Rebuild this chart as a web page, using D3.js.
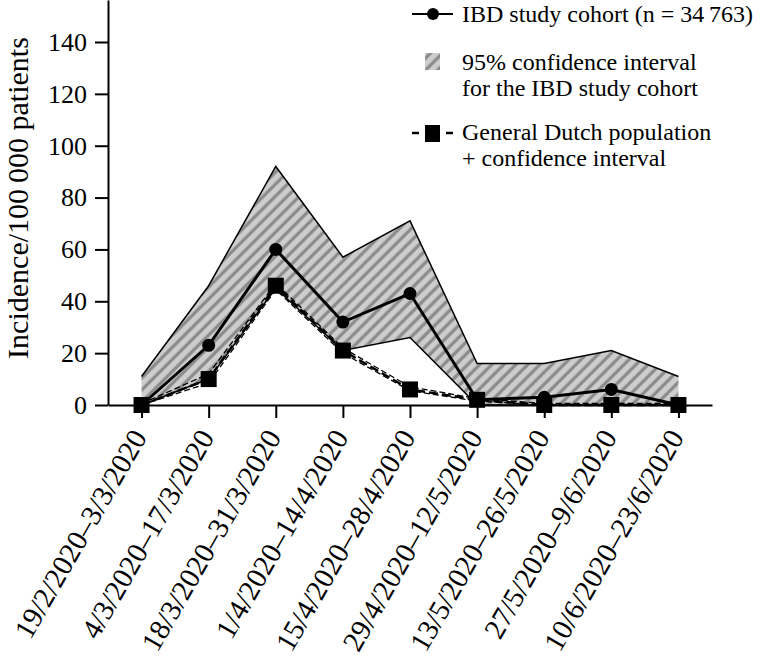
<!DOCTYPE html>
<html>
<head>
<meta charset="utf-8">
<script src="https://cdn.jsdelivr.net/npm/d3@7"></script>
<style>
  body { margin: 0; background: #fff; }
</style>
</head>
<body>
<svg id="main-svg" width="764" height="671"></svg>
<script>
// periods on the x axis
const periods = [
    '19/2/2020–3/3/2020', '4/3/2020–17/3/2020', '18/3/2020–31/3/2020',
    '1/4/2020–14/4/2020', '15/4/2020–28/4/2020', '29/4/2020–12/5/2020',
    '13/5/2020–26/5/2020', '27/5/2020–9/6/2020', '10/6/2020–23/6/2020'
];

// IBD study cohort and its 95% CI
const ibdIncidence = [0, 23, 60, 32, 43, 2, 3, 6, 0];
const ibdUpper = [11, 46, 92, 57, 71, 16, 16, 21, 11];
const ibdLower = [0, 10, 45, 21, 26, 0, 0, 0, 0];

// general Dutch population and its CI
const dutchIncidence = [0, 10, 46, 21, 6, 2, 0, 0, 0];
const dutchUpper = [0.5, 12, 47, 22, 7, 2.5, 0.6, 0.6, 0.6];
const dutchLower = [0, 8.5, 44.5, 20, 5.5, 1.5, 0, 0, 0];

const yTicks = [0, 20, 40, 60, 80, 100, 120, 140];

const serif = "'Liberation Serif', 'DejaVu Serif', 'Times New Roman', Times, serif";

const svg = d3.select('#main-svg');
const left = 108, right = 712, bottom = 405;

const x = d3.scalePoint().domain(periods).range([left, right]).padding(0.5);
const y = d3.scaleLinear().domain([0, 156.2]).range([bottom, 0]);

// hatch pattern for the confidence band
const defs = svg.append('defs');
const pat = defs.append('pattern')
    .attr('id', 'hatch')
    .attr('patternUnits', 'userSpaceOnUse')
    .attr('width', 8.5)
    .attr('height', 8.5)
    .attr('patternTransform', 'rotate(45)');
pat.append('rect').attr('width', 8.5).attr('height', 8.5).attr('fill', '#cdcdcd');
pat.append('line')
    .attr('x1', 2).attr('x2', 2).attr('y1', 0).attr('y2', 8.5)
    .attr('stroke', '#8a8a8a').attr('stroke-width', 3.2);

const band = periods.map((p, i) => ({ p, lo: ibdLower[i], hi: ibdUpper[i] }));

svg.append('path')
    .datum(band)
    .attr('fill', 'url(#hatch)')
    .attr('d', d3.area().x(d => x(d.p)).y0(d => y(d.lo)).y1(d => y(d.hi)));

svg.append('path')
    .datum(band)
    .attr('fill', 'none')
    .attr('stroke', '#000')
    .attr('stroke-width', 1.5)
    .attr('d', d3.line().x(d => x(d.p)).y(d => y(d.hi)));

svg.append('path')
    .datum(band)
    .attr('fill', 'none')
    .attr('stroke', '#000')
    .attr('stroke-width', 1.5)
    .attr('d', d3.line().x(d => x(d.p)).y(d => y(d.lo)));

// axes
const yAxis = svg.append('g')
    .attr('transform', `translate(${left},0)`)
    .call(d3.axisLeft(y).tickValues(yTicks).tickSize(13).tickSizeOuter(0).tickPadding(8));
yAxis.select('.domain').attr('stroke-width', 2);
yAxis.selectAll('.tick line').attr('stroke-width', 2);
yAxis.selectAll('.tick text')
    .attr('font-size', 26)
    .attr('fill', '#000');

const xAxis = svg.append('g')
    .attr('transform', `translate(0,${bottom})`)
    .call(d3.axisBottom(x).tickSize(13).tickSizeOuter(0));
xAxis.select('.domain').attr('stroke-width', 2);
xAxis.selectAll('.tick line').attr('stroke-width', 2);
xAxis.selectAll('.tick text')
    .attr('font-size', 29)
    .attr('fill', '#000')
    .attr('text-anchor', 'end')
    .attr('dy', '0.35em')
    .attr('y', 0)
    .attr('transform', 'translate(-3,27) rotate(-60)');

svg.append('text')
    .attr('transform', `translate(17,198) rotate(-90)`)
    .attr('text-anchor', 'middle')
    .attr('dy', '0.35em')
    .attr('font-size', 30)
    .text('Incidence/100\u2009000 patients');

// general Dutch population lines
const dutchLine = d3.line().x((d, i) => x(periods[i])).y(d => y(d));

[dutchLower, dutchUpper].forEach(arr => {
    svg.append('path')
        .datum(arr)
        .attr('fill', 'none')
        .attr('stroke', '#000')
        .attr('stroke-width', 1.3)
        .attr('stroke-dasharray', '6,3')
        .attr('d', dutchLine);
});

svg.append('path')
    .datum(dutchIncidence)
    .attr('fill', 'none')
    .attr('stroke', '#000')
    .attr('stroke-width', 2.5)
    .attr('stroke-dasharray', '9,4')
    .attr('d', dutchLine);

// IBD cohort line
svg.append('path')
    .datum(ibdIncidence)
    .attr('fill', 'none')
    .attr('stroke', '#000')
    .attr('stroke-width', 3)
    .attr('d', dutchLine);

svg.selectAll('.ibd-dot')
    .data(ibdIncidence)
    .enter()
    .append('circle')
    .attr('class', 'ibd-dot')
    .attr('cx', (d, i) => x(periods[i]))
    .attr('cy', d => y(d))
    .attr('r', 6.5)
    .attr('fill', '#000');

svg.selectAll('.dutch-sq')
    .data(dutchIncidence)
    .enter()
    .append('rect')
    .attr('class', 'dutch-sq')
    .attr('x', (d, i) => x(periods[i]) - 8)
    .attr('y', d => y(d) - 8)
    .attr('width', 16)
    .attr('height', 16)
    .attr('fill', '#000');

// legend
const legend = svg.append('g').attr('font-size', 24);

legend.append('line')
    .attr('x1', 412).attr('x2', 453).attr('y1', 14).attr('y2', 14)
    .attr('stroke', '#000').attr('stroke-width', 2);
legend.append('circle').attr('cx', 433).attr('cy', 14).attr('r', 6).attr('fill', '#000');
legend.append('text').attr('x', 462).attr('y', 22).text('IBD study cohort (n = 34\u2009763)');

legend.append('rect')
    .attr('x', 425).attr('y', 53).attr('width', 15).attr('height', 17)
    .attr('fill', 'url(#hatch)');
legend.append('text').attr('x', 462).attr('y', 70).text('95% confidence interval');
legend.append('text').attr('x', 462).attr('y', 96).text('for the IBD study cohort');

legend.append('line')
    .attr('x1', 412).attr('x2', 419).attr('y1', 133).attr('y2', 133)
    .attr('stroke', '#000').attr('stroke-width', 2.5);
legend.append('line')
    .attr('x1', 446).attr('x2', 453).attr('y1', 133).attr('y2', 133)
    .attr('stroke', '#000').attr('stroke-width', 2.5);
legend.append('rect').attr('x', 425).attr('y', 125).attr('width', 15).attr('height', 17).attr('fill', '#000');
legend.append('text').attr('x', 462).attr('y', 140).text('General Dutch population');
legend.append('text').attr('x', 462).attr('y', 166).text('+ confidence interval');

// serif font on every label
svg.selectAll('g').attr('font-family', null);
svg.selectAll('text').style('font-family', serif);
</script>
</body>
</html>
